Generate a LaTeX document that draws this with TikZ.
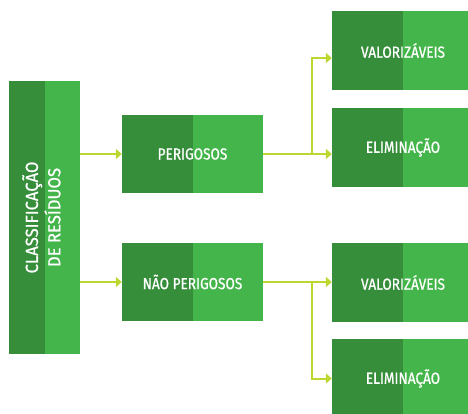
\documentclass[tikz,border=0pt]{standalone}
\usepackage{fontspec}
\setmainfont[FakeStretch=0.85,FakeBold=0.8]{Fira Sans}
\newfontfamily\largafont[FakeStretch=0.95,FakeBold=0.8]{Fira Sans}
\usepackage{graphicx}
\usetikzlibrary{arrows.meta}
\definecolor{verdeesc}{RGB}{54,142,59}
\definecolor{verdecla}{RGB}{68,181,74}
\definecolor{lima}{RGB}{190,214,48}

\begin{document}
\begin{tikzpicture}[x=1pt,y=-1pt,
  caixa/.style={rectangle,inner sep=0pt,fill=verdecla,text=white,
    font=\fontsize{16}{19}\selectfont,
    path picture={\fill[verdeesc] (path picture bounding box.north west)
      rectangle (path picture bounding box.south);}},
  seta/.style={lima,line width=2pt,-{Triangle[length=6pt,width=10pt]}}]
\useasboundingbox (0,0) rectangle (468,414);
\clip (0,0) rectangle (468,414);
\node[caixa,minimum width=71pt,minimum height=273pt] (clas) at (44.5,217.5)
  {\rotatebox{90}{\largafont\fontsize{17.5}{21.5}\selectfont
   \begin{tabular}{@{}c@{}}CLASSIFICAÇÃO\\DE RESÍDUOS\end{tabular}}};
\node[caixa,minimum width=141pt,minimum height=78pt] (per) at (192.5,154) {PERIGOSOS};
\node[caixa,minimum width=141pt,minimum height=78pt] (nao) at (192.5,282) {NÃO PERIGOSOS};
\node[caixa,minimum width=142pt,minimum height=79pt] (val1) at (403,50.5) {VALORIZÁVEIS};
\node[caixa,minimum width=142pt,minimum height=79pt] (elim1) at (403,147.5) {ELIMINAÇÃO};
\node[caixa,minimum width=142pt,minimum height=79pt] (val2) at (403,282.5) {VALORIZÁVEIS};
\node[caixa,minimum width=142pt,minimum height=79pt] (elim2) at (403,378.5) {ELIMINAÇÃO};
\path (per.east) ++(49,0) coordinate (j1);
\path (nao.east) ++(49,0) coordinate (j2);
\draw[seta] (clas.east |- per) -- (per.west);
\draw[seta] (clas.east |- nao) -- (nao.west);
\draw[seta] (per.east) -- (per.east -| elim1.west);
\draw[seta] (j1) |- ([yshift=-7.5pt]val1.west);
\draw[seta] (nao.east) -- (nao.east -| val2.west);
\draw[seta] (j2) |- (elim2.west);
\end{tikzpicture}
\end{document}
